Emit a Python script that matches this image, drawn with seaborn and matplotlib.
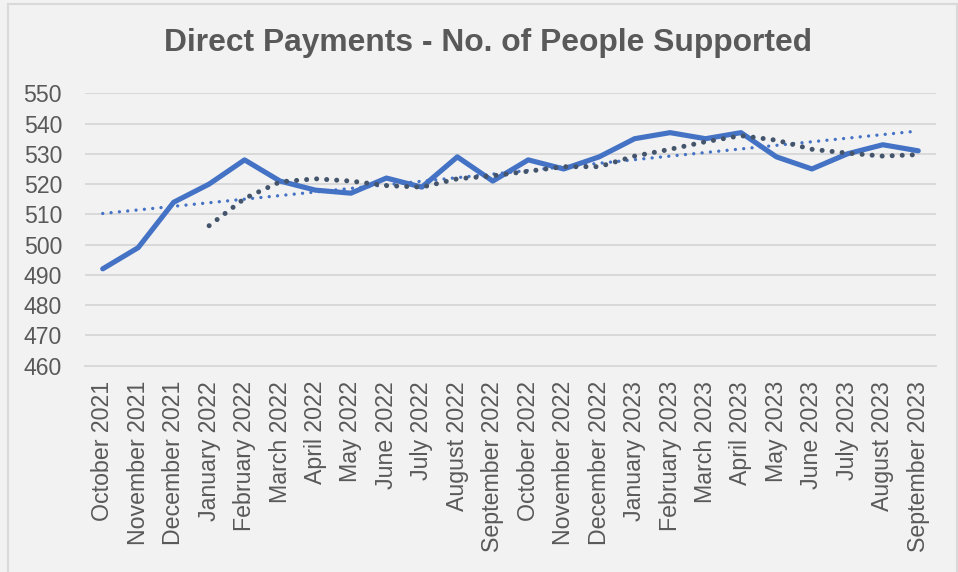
import numpy as np
import pandas as pd
import matplotlib
matplotlib.use("Agg")
import matplotlib.pyplot as plt
from matplotlib.patches import Rectangle
import seaborn as sns

# Monthly count of people supported through direct payments
months = [
    "October 2021", "November 2021", "December 2021", "January 2022",
    "February 2022", "March 2022", "April 2022", "May 2022", "June 2022",
    "July 2022", "August 2022", "September 2022", "October 2022",
    "November 2022", "December 2022", "January 2023", "February 2023",
    "March 2023", "April 2023", "May 2023", "June 2023", "July 2023",
    "August 2023", "September 2023",
]
people = [492, 499, 514, 520, 528, 521, 518, 517, 522, 519, 529, 521,
          528, 525, 529, 535, 537, 535, 537, 529, 525, 530, 533, 531]
y_ticks = [460, 470, 480, 490, 500, 510, 520, 530, 540, 550]

df = pd.DataFrame({"month": months, "people": people})
df["pos"] = np.arange(len(df))
# 4-period moving average and linear trend, as Excel trendlines
df["moving_avg"] = df["people"].rolling(4).mean()
slope, intercept = np.polyfit(df["pos"], df["people"], 1)
df["trend"] = intercept + slope * df["pos"]

sns.set_style("white")
plt.rcParams["font.family"] = ["Liberation Sans", "DejaVu Sans"]

BG = "#F2F2F2"
GRID = "#D9D9D9"
TXT = "#595959"
BLUE = "#4472C4"
SLATE = "#44546A"

W, H = 958, 572
fig = plt.figure(figsize=(W / 100, H / 100), dpi=100)
fig.patch.set_facecolor(BG)
fig.patches.append(Rectangle((7.5 / W, -0.05), (956.5 - 7.5) / W, 1.05 - 3.5 / H,
                             transform=fig.transFigure, fill=False,
                             edgecolor=GRID, linewidth=1.5))

left, right = 85 / W, 936 / W
bottom, top = 1 - 365.7 / H, 1 - 93.3 / H
ax = fig.add_axes([left, bottom, right - left, top - bottom])
ax.set_facecolor(BG)

sns.lineplot(data=df, x="pos", y="people", ax=ax, color=BLUE, linewidth=3.7,
             solid_joinstyle="round", solid_capstyle="round", zorder=3)
sns.lineplot(data=df, x="pos", y="trend", ax=ax, color=BLUE, linewidth=2.4,
             dashes=False, zorder=4)
ax.lines[-1].set_linestyle((0, (0.01, 2.5)))
ax.lines[-1].set_dash_capstyle("round")
sns.lineplot(data=df.dropna(), x="pos", y="moving_avg", ax=ax, color=SLATE,
             linewidth=3.6, zorder=5)
ax.lines[-1].set_linestyle((0, (0.01, 2.0)))
ax.lines[-1].set_dash_capstyle("round")

ax.set_xlim(-0.5, len(months) - 0.5)
ax.set_ylim(460, 550)
ax.set_yticks(y_ticks)
ax.set_yticklabels([str(v) for v in y_ticks])
ax.set_xticks(df["pos"])
ax.set_xticklabels(months, rotation=90, ha="center", va="top")
ax.set_xticks(np.arange(-0.5, len(months), 1.0), minor=True)
ax.tick_params(axis="x", which="major", length=0, pad=11, labelsize=16.7,
               labelcolor=TXT)
ax.tick_params(axis="x", which="minor", length=5.2, width=1.2, color=GRID)
ax.tick_params(axis="y", length=0, pad=16.5, labelsize=16.6, labelcolor=TXT)

ax.grid(axis="y", color=GRID, linewidth=1.4)
ax.set_axisbelow(True)
for side in ("top", "right", "left"):
    ax.spines[side].set_visible(False)
ax.spines["bottom"].set_color(GRID)
ax.spines["bottom"].set_linewidth(1.4)
ax.set_xlabel("")
ax.set_ylabel("")

fig.text(487.5 / W, 1 - 43 / H, "Direct Payments - No. of People Supported",
         ha="center", va="center", fontsize=22.9, fontweight="bold", color=TXT)

fig.savefig("out.png", dpi=100, facecolor=BG)
